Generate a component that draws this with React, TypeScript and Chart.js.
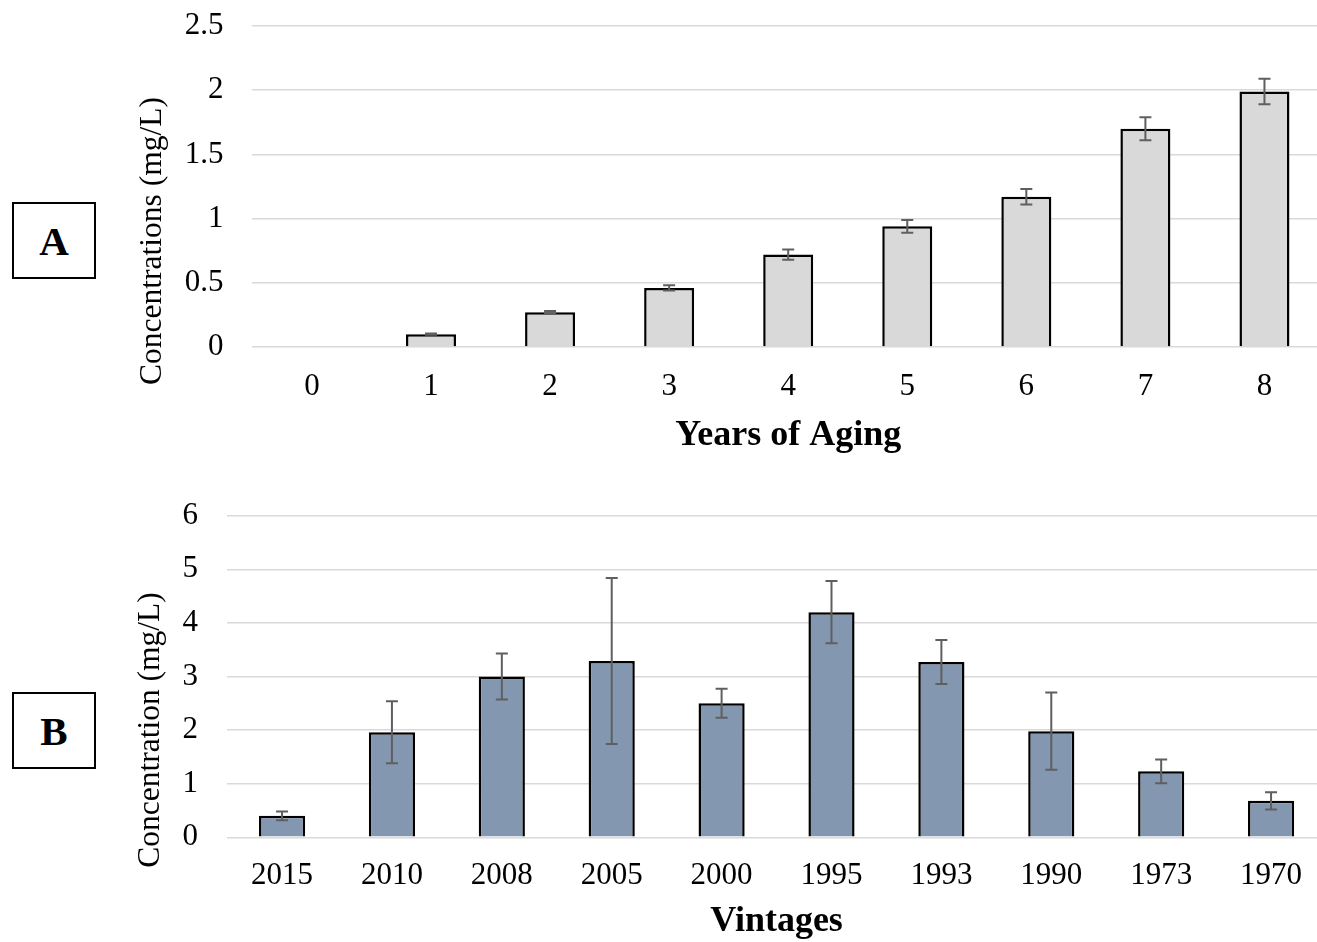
import React, { useEffect, useRef } from "react";
import { Chart, registerables } from "chart.js";

Chart.register(...registerables);

const yearsLabels = ["0", "1", "2", "3", "4", "5", "6", "7", "8"];
const yearsValues = [0, 0.1, 0.27, 0.46, 0.72, 0.94, 1.17, 1.7, 1.99];
const yearsErrors = [0, 0.005, 0.01, 0.02, 0.04, 0.05, 0.06, 0.09, 0.1];

const vintageLabels = ["2015", "2010", "2008", "2005", "2000", "1995", "1993", "1990", "1973", "1970"];
const vintageValues = [0.4, 1.96, 3.0, 3.29, 2.5, 4.2, 3.27, 1.98, 1.23, 0.68];
const vintageErrors = [0.08, 0.58, 0.43, 1.55, 0.27, 0.58, 0.41, 0.72, 0.22, 0.16];

const FONT = "'Liberation Serif', 'Times New Roman', serif";

const errorBarPlugin = {
  id: "errorBars",
  afterDatasetsDraw(chart: any, _args: any, opts: any) {
    const errs: number[] = opts.errors || [];
    const vals: number[] = chart.data.datasets[0].data;
    const xs = chart.scales.x;
    const ys = chart.scales.y;
    const ctx = chart.ctx;
    ctx.save();
    ctx.strokeStyle = "#5f5f5f";
    ctx.lineWidth = 2;
    for (let i = 0; i < vals.length; i++) {
      const e = errs[i];
      if (!e) continue;
      const x = xs.getPixelForValue(i);
      const yt = ys.getPixelForValue(vals[i] + e);
      const yb = ys.getPixelForValue(vals[i] - e);
      ctx.beginPath();
      ctx.moveTo(x, yt);
      ctx.lineTo(x, yb);
      ctx.moveTo(x - 6, yt);
      ctx.lineTo(x + 6, yt);
      ctx.moveTo(x - 6, yb);
      ctx.lineTo(x + 6, yb);
      ctx.stroke();
    }
    ctx.restore();
  },
};

type Cfg = {
  labels: string[];
  values: number[];
  errors: number[];
  color: string;
  yMax: number;
  step: number;
  xTitle: string;
  yWidth: number;
  xHeight: number;
  padTop: number;
  xTickPad: number;
  xTitlePadBottom: number;
};

function BarChart({ cfg, width, height }: { cfg: Cfg; width: number; height: number }) {
  const ref = useRef<HTMLCanvasElement>(null);
  useEffect(() => {
    if (!ref.current) return;
    const chart = new Chart(ref.current, {
      type: "bar",
      data: {
        labels: cfg.labels,
        datasets: [
          {
            data: cfg.values,
            backgroundColor: cfg.color,
            borderColor: "#000000",
            borderWidth: 2.5,
            categoryPercentage: 1,
            barPercentage: 0.42,
          },
        ],
      },
      options: {
        responsive: false,
        animation: false,
        devicePixelRatio: 1,
        layout: { padding: { top: cfg.padTop, left: 0, right: 0, bottom: 0 } },
        plugins: {
          legend: { display: false },
          tooltip: { enabled: false },
          errorBars: { errors: cfg.errors },
        } as any,
        scales: {
          x: {
            grid: { display: false },
            border: { display: false },
            ticks: { color: "#000", font: { family: FONT, size: 31 }, padding: cfg.xTickPad, maxRotation: 0 },
            title: {
              display: true,
              text: cfg.xTitle,
              color: "#000",
              font: { family: FONT, size: 36, weight: "bold", lineHeight: 1.1 },
              padding: { top: 0, bottom: cfg.xTitlePadBottom },
            },
            afterFit: (s: any) => {
              s.height = cfg.xHeight;
              s.paddingLeft = 0;
              s.paddingRight = 0;
            },
          },
          y: {
            min: 0,
            max: cfg.yMax,
            grid: { color: "#d9d9d9", lineWidth: 1.5, drawTicks: false },
            border: { display: false },
            ticks: {
              stepSize: cfg.step,
              color: "#000",
              font: { family: FONT, size: 31 },
              padding: 29,
              callback: (v: any) => String(Number(v)),
            },
            title: { display: false },
            afterFit: (s: any) => {
              s.width = cfg.yWidth;
              s.paddingTop = 0;
              s.paddingBottom = 0;
            },
          },
        },
      },
      plugins: [errorBarPlugin],
    });
    return () => chart.destroy();
  }, []);
  return <canvas ref={ref} width={width} height={height} style={{ width, height, display: "block" }} />;
}

const boxStyle: React.CSSProperties = {
  position: "absolute",
  left: 12,
  width: 80,
  height: 73,
  border: "2px solid #000",
  display: "flex",
  alignItems: "center",
  justifyContent: "center",
  fontFamily: FONT,
  fontWeight: "bold",
  fontSize: 41,
  color: "#000",
  background: "#fff",
};

const yTitleStyle: React.CSSProperties = {
  position: "absolute",
  transform: "translate(-50%, -50%) rotate(-90deg)",
  whiteSpace: "nowrap",
  fontFamily: FONT,
  fontSize: 31.5,
  lineHeight: 1,
  color: "#000",
};

export default function App() {
  const cfgA: Cfg = {
    labels: yearsLabels,
    values: yearsValues,
    errors: yearsErrors,
    color: "#d9d9d9",
    yMax: 2.5,
    step: 0.5,
    xTitle: "Years of Aging",
    yWidth: 122.4,
    xHeight: 113,
    padTop: 26,
    xTickPad: 13,
    xTitlePadBottom: 4,
  };
  const cfgB: Cfg = {
    labels: vintageLabels,
    values: vintageValues,
    errors: vintageErrors,
    color: "#8497b0",
    yMax: 6,
    step: 1,
    xTitle: "Vintages",
    yWidth: 97.1,
    xHeight: 104.7,
    padTop: 35.7,
    xTickPad: 12,
    xTitlePadBottom: 0,
  };
  return (
    <div
      style={{
        position: "absolute",
        left: 0,
        top: 0,
        width: 1317,
        height: 942,
        overflow: "hidden",
        background: "#fff",
      }}
    >
      <div style={{ position: "absolute", left: 130, top: 0 }}>
        <BarChart cfg={cfgA} width={1194} height={460} />
      </div>
      <div style={{ position: "absolute", left: 130, top: 480 }}>
        <BarChart cfg={cfgB} width={1196} height={462} />
      </div>
      <div style={{ ...yTitleStyle, left: 151, top: 241 }}>Concentrations (mg/L)</div>
      <div style={{ ...yTitleStyle, left: 149, top: 730 }}>Concentration (mg/L)</div>
      <div style={{ ...boxStyle, top: 202 }}>A</div>
      <div style={{ ...boxStyle, top: 692 }}>B</div>
    </div>
  );
}
